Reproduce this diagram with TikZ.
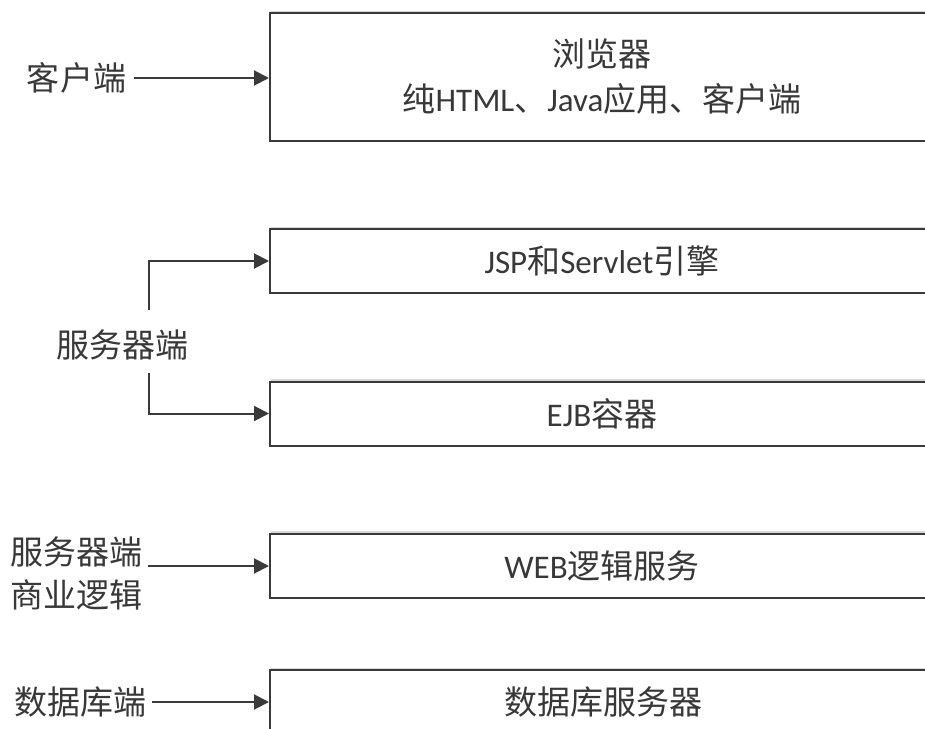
\documentclass[tikz,border=0pt]{standalone}
\usepackage{fontspec}
\setmainfont{Carlito}
\newfontfamily\cjk{Noto Sans CJK SC}
\usetikzlibrary{arrows.meta,shadows}
\definecolor{ln}{HTML}{3A3A3A}
\definecolor{tx}{HTML}{383838}
\tikzset{
  layerbox/.style={draw=ln,line width=2pt,fill=white,minimum width=664pt,
    inner sep=0pt,text=tx,align=center,
    font=\fontsize{33}{45}\selectfont,
    drop shadow={shadow xshift=0.5pt,shadow yshift=2.5pt,fill=black!25,opacity=0.6}},
  sidelabel/.style={text=tx,align=center,inner sep=0pt,font=\fontsize{33}{43}\selectfont},
  arr/.style={draw=ln,line width=2pt,-{Triangle[length=15pt,width=15pt]}}
}
\begin{document}
\begin{tikzpicture}[x=1pt,y=-1pt]
\useasboundingbox (0,0) rectangle (925,728);
\clip (0,0) rectangle (925,728);
\fill[white] (0,0) rectangle (925,728);
% boxes
\node[layerbox,minimum height=128pt] (b1) at (602,77)
  {{\cjk 浏览器}\\{\cjk 纯}HTML{\cjk 、}Java{\cjk 应用、客户端}};
\node[layerbox,minimum height=64pt] (b2) at (602,261) {JSP{\cjk 和}Servlet{\cjk 引擎}};
\node[layerbox,minimum height=64pt] (b3) at (602,413.5) {EJB{\cjk 容器}};
\node[layerbox,minimum height=64pt] (b4) at (602,565.5) {WEB{\cjk 逻辑服务}};
\node[layerbox,minimum height=64pt] (b5) at (602,702) {};
\node[text=tx,inner sep=0pt,font=\fontsize{33}{43}\selectfont] (t5) at (603,702) {\cjk 数据库服务器};
% side labels
\node[sidelabel] (l1) at (76.5,78) {\cjk 客户端};
\node[sidelabel] (l2) at (122.5,345) {\cjk 服务器端};
\node[sidelabel] (l3) at (76,573.5) {\cjk 服务器端\\\cjk 商业逻辑};
\node[sidelabel] (l5) at (80,702) {\cjk 数据库端};
% connector helpers
\coordinate (a1) at (134,78);
\coordinate (s1) at (149,310);
\coordinate (s2) at (149,373);
\coordinate (a4) at (148,566);
\coordinate (a5) at (152,702);
% connectors
\draw[arr] (a1) -- (a1 -| b1.west);
\draw[arr] (s1) |- (b2.west);
\draw[arr] (s2) |- (b3.west);
\draw[arr] (a4) -- (a4 -| b4.west);
\draw[arr] (a5) -- (a5 -| b5.west);
\end{tikzpicture}
\end{document}
